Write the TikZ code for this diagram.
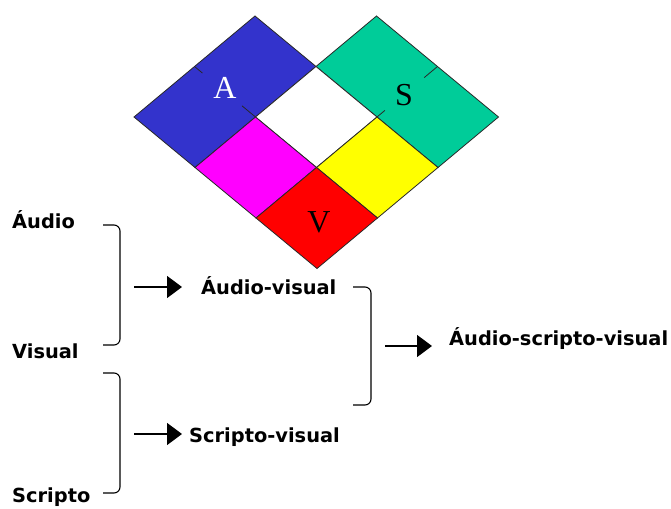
\documentclass[tikz,border=0pt]{standalone}
\usepackage{fontspec}
\setmainfont{DejaVu Sans}
\newfontfamily\letterfont{Liberation Serif}
\usetikzlibrary{arrows.meta}
\definecolor{cA}{RGB}{51,51,204}
\definecolor{cS}{RGB}{0,204,153}
\definecolor{cM}{RGB}{255,0,255}
\definecolor{cY}{RGB}{255,255,0}
\definecolor{cV}{RGB}{255,0,0}
\definecolor{edge}{RGB}{40,40,40}
\begin{document}
\begin{tikzpicture}[x=1pt,y=1pt,
  cell/.style={draw=edge, line width=0.8pt, line join=miter},
  tick/.style={draw=edge, line width=0.8pt},
  lbl/.style={font=\fontsize{19.4}{22}\selectfont\bfseries, inner sep=0pt, anchor=base west},
  letter/.style={font=\letterfont\fontsize{32}{32}\selectfont, inner sep=0pt},
  brack/.style={line width=1.1pt, rounded corners=6pt},
  arr/.style={line width=1.4pt, -{Triangle[length=15pt,width=22pt]}}]
\useasboundingbox (0,0) rectangle (671,-508);
% ---------- diamond ----------
\begin{scope}[shift={(255,-16)}, x={(61pt,-50.5pt)}, y={(-60.5pt,-50.5pt)}]
  \filldraw[cell, fill=cA] (0,0) -- (1,0) -- (1,2) -- (0,2) -- cycle;
  \filldraw[cell, fill=cS] (1,-1) -- (3,-1) -- (3,0) -- (1,0) -- cycle;
  \filldraw[cell, fill=white] (1,0) -- (2,0) -- (2,1) -- (1,1) -- cycle;
  \filldraw[cell, fill=cM] (1,1) -- (2,1) -- (2,2) -- (1,2) -- cycle;
  \filldraw[cell, fill=cY] (2,0) -- (3,0) -- (3,1) -- (2,1) -- cycle;
  \filldraw[cell, fill=cV] (2,1) -- (3,1) -- (3,2) -- (2,2) -- cycle;
  \draw[tick] (0,1) -- (0.13,1);
  \draw[tick] (0.78,1) -- (1,1);
  \draw[tick] (2,-1) -- (2,-0.78);
  \draw[tick] (2,0) -- (2,-0.13);
\end{scope}
\node[letter, text=white] (lA) at (225,-88) {A};
\node[letter, text=black] (lS) at (404,-95) {S};
\node[letter, text=black] (lV) at (319,-222) {V};
% ---------- labels ----------
\node[lbl] (audio)  at (12,-228) {Áudio};
\node[lbl] (visual) at (12,-358) {Visual};
\node[lbl] (scripto) at (12,-502.5) {Scripto};
\node[lbl] (av)  at (201,-294) {Áudio-visual};
\node[lbl] (sv)  at (189,-442) {Scripto-visual};
\node[lbl] (asv) at (449,-345) {Áudio-scripto-visual};
% ---------- brackets ----------
\coordinate (b1t) at (103,-225);
\coordinate (b1m) at (120,-285);
\coordinate (b1b) at (103,-345);
\coordinate (b2t) at (103,-373);
\coordinate (b2m) at (120,-433);
\coordinate (b2b) at (103,-493);
\coordinate (b3t) at (353,-287);
\coordinate (b3m) at (371,-346);
\coordinate (b3b) at (353,-405);
\draw[brack] (b1t) -| (b1m) |- (b1b);
\draw[brack] (b2t) -| (b2m) |- (b2b);
\draw[brack] (b3t) -| (b3m) |- (b3b);
% ---------- arrows ----------
\coordinate (a1s) at (134,-287);
\coordinate (a1e) at (182,-287);
\coordinate (a2s) at (134,-434);
\coordinate (a2e) at (182,-434);
\coordinate (a3s) at (385,-346);
\coordinate (a3e) at (432,-346);
\draw[arr] (a1s) -- (a1e);
\draw[arr] (a2s) -- (a2e);
\draw[arr] (a3s) -- (a3e);
\end{tikzpicture}
\end{document}
